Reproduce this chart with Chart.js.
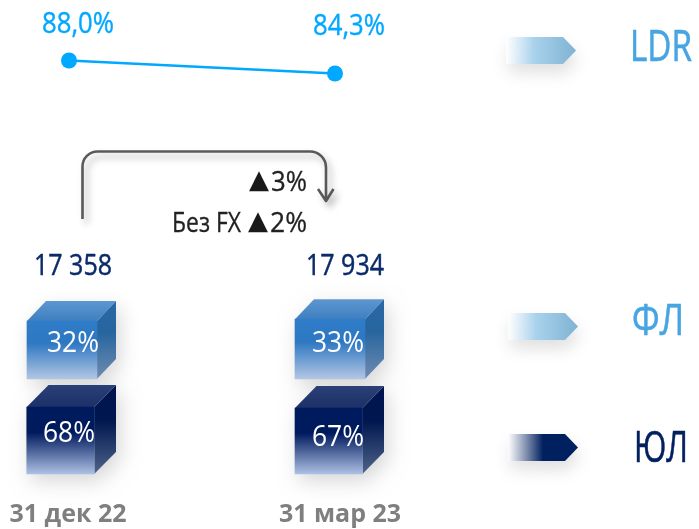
<!DOCTYPE html>
<html><head><meta charset="utf-8">
<style>html,body{margin:0;padding:0;background:#fff}#w{width:699px;height:529px;position:relative}</style>
<script src="https://cdn.jsdelivr.net/npm/chart.js@4"></script>
</head><body><div id="w"><canvas id="c" width="699" height="529"></canvas></div>
<script>
const dates = ['31 дек 22', '31 мар 23'];
const ldr = [88.0, 84.3];
const totals = [17358, 17934];
const flShare = [32, 33];
const jlShare = [68, 67];
const seriesNames = ['LDR', 'ФЛ', 'ЮЛ'];
const growth = '▲3%';
const growthNoFx = 'Без FX ▲2%';

const FONT = '"Open Sans"';
const H = 492; // chart-area bottom
const T = 8;   // chart-area top
function yRange(basePx, pxPerUnit){ return {min: -(H-basePx)/pxPerUnit, max: (basePx-T)/pxPerUnit}; }
function xRange(zeroPx, pxPerUnit){ return {min: (68-zeroPx)/pxPerUnit, max: (340-zeroPx)/pxPerUnit}; }
function hidden(type, r){ return Object.assign({type, display:false, offset:false, bounds:'data', grid:{display:false}}, r); }

function frontGradient(stops, yId){
  return ctx => {
    if (ctx.type !== 'data' || !ctx.parsed) return stops[0][1];
    const s = ctx.chart.scales[yId];
    const y0 = s.getPixelForValue(ctx.parsed.y), y1 = s.getPixelForValue(0);
    if (!isFinite(y0) || !isFinite(y1)) return stops[0][1];
    const g = ctx.chart.ctx.createLinearGradient(0, y0, 0, y1);
    stops.forEach(p => g.addColorStop(p[0], p[1]));
    return g;
  };
}
const flFront = [[0,'#2f7cc8'],[0.38,'#2e78c2'],[1,'#b3c6e3']];
const jlFront = [[0,'#001a5e'],[0.38,'#001a5e'],[1,'#adc0e4']];
const flSide = [[0,'#2a68a6'],[0.4,'#27659f'],[1,'#6f8cb0']];
const jlSide = [[0,'#00144f'],[0.4,'#00174f'],[1,'#4f6488']];
const flTop = ['#5d97d0','#3f7fc0'];
const jlTop = ['#2a4077','#1d3068'];

function fit(c, text, x, base, w, font, color, align, bold){
  c.save(); c.font = font; c.fillStyle = color; c.textAlign = align||'left'; c.textBaseline='alphabetic';
  c.fillText(text, x, base, w);
  if (bold){ c.strokeStyle=color; c.lineWidth=bold; c.lineJoin='round'; c.strokeText(text,x,base,w); }
  c.restore();
}
function grad(c,x0,y0,x1,y1,stops){ const g=c.createLinearGradient(x0,y0,x1,y1); stops.forEach(p=>g.addColorStop(p[0],p[1])); return g; }

function cube(c, el, right, dy, side, top){
  const l = el.x-el.width/2, r = el.x+el.width/2, t = el.y, b = el.base;
  c.save();
  c.shadowColor='rgba(0,0,0,0.16)'; c.shadowBlur=20; c.shadowOffsetX=4; c.shadowOffsetY=7;
  c.fillStyle='#fff';
  c.beginPath(); c.moveTo(l,t); c.lineTo(l+(right-r),t-dy); c.lineTo(right,t-dy); c.lineTo(right,b-dy); c.lineTo(r,b); c.lineTo(l,b); c.closePath(); c.fill();
  c.restore();
  c.fillStyle = grad(c,0,t-dy,0,t,[[0,top[0]],[1,top[1]]]);
  c.beginPath(); c.moveTo(l,t); c.lineTo(l+(right-r),t-dy); c.lineTo(right,t-dy); c.lineTo(r,t); c.closePath(); c.fill();
  c.fillStyle = grad(c,0,t-dy,0,b,side);
  c.beginPath(); c.moveTo(r,t); c.lineTo(right,t-dy); c.lineTo(right,b-dy); c.lineTo(r,b); c.closePath(); c.fill();
}
function arrow(c, x, y, stops){
  const w=70, h=27, p=13;
  c.save();
  c.shadowColor='rgba(0,0,0,0.12)'; c.shadowBlur=16; c.shadowOffsetX=2; c.shadowOffsetY=9;
  c.fillStyle=grad(c,x,0,x+w,0,stops);
  c.beginPath(); c.moveTo(x,y); c.lineTo(x+w-p,y); c.lineTo(x+w,y+h/2); c.lineTo(x+w-p,y+h); c.lineTo(x,y+h); c.closePath(); c.fill();
  c.restore();
}

const art = {
  id:'art',
  beforeDatasetsDraw(chart){
    const c = chart.ctx;
    const fl = chart.getDatasetMeta(0).data, jl = chart.getDatasetMeta(1).data;
    [116,384].forEach((rgt,i)=>{
      cube(c, fl[i], rgt, 20, flSide, flTop);
      cube(c, jl[i], rgt, 22, jlSide, jlTop);
    });
    // connector
    c.save();
    c.shadowColor='rgba(0,0,0,0.3)'; c.shadowBlur=7; c.shadowOffsetX=4; c.shadowOffsetY=5;
    c.strokeStyle='#595959'; c.lineWidth=2.6; c.lineJoin='round'; c.lineCap='butt';
    c.beginPath(); c.moveTo(82.5,219); c.lineTo(82.5,167); c.arcTo(82.5,151.5,98,151.5,15); c.lineTo(310,151.5); c.arcTo(326,151.5,326,167,16); c.lineTo(326,201);
    c.moveTo(318,189); c.lineTo(326,201); c.lineTo(333.5,189); c.stroke();
    c.restore();
    // legend arrows
    arrow(c,506,37,[[0,'rgba(255,255,255,0.9)'],[0.4,'#a9d2ec'],[1,'#7fb2d2']]);
    arrow(c,508,313,[[0,'rgba(255,255,255,0.9)'],[0.4,'#a9d2ec'],[1,'#7fb2d2']]);
    arrow(c,508,434,[[0,'rgba(255,255,255,0.9)'],[0.5,'#00205f'],[1,'#00205f']]);
  },
  afterDatasetsDraw(chart){
    const c = chart.ctx;
    const big = '30px '+FONT;
    const fmt = v => v.toFixed(1).replace('.',',')+'%';
    const thou = v => String(v).replace(/\B(?=(\d{3})+$)/g,' ');
    fit(c, fmt(ldr[0]), 42, 33, 72, big, '#00a8ff','left',0.4);
    fit(c, fmt(ldr[1]), 313, 35, 72, big, '#00a8ff','left',0.4);
    fit(c, thou(totals[0]), 34, 275, 78, big, '#0a2a6a','left',0.5);
    fit(c, thou(totals[1]), 306, 275, 78, big, '#0a2a6a','left',0.5);
    fit(c, flShare[0]+'%', 47, 352, 52, big, '#fff');
    fit(c, flShare[1]+'%', 312, 352, 52, big, '#fff');
    fit(c, jlShare[0]+'%', 43, 442, 52, big, '#fff');
    fit(c, jlShare[1]+'%', 312, 446, 52, big, '#fff');
    const small = '27px '+FONT, tri = '26px "DejaVu Sans"';
    const g1 = growth.split('▲'), g2 = growthNoFx.split('▲');
    fit(c, '▲', 249, 188, 21, tri, '#1a1a1a');
    fit(c, g1[1], 307, 191, 36, small, '#222', 'right', 0.3);
    fit(c, g2[0].trim(), 172, 232, 69, small, '#222', 'left', 0.3);
    fit(c, '▲', 248, 229, 21, tri, '#1a1a1a');
    fit(c, g2[1], 307, 232, 37, small, '#222', 'right', 0.3);
    const leg = '44px '+FONT;
    fit(c, seriesNames[0], 630, 61, 62, leg, '#46a5e2','left',0.6);
    fit(c, seriesNames[1], 632, 335, 52, leg, '#46a5e2','left',0.6);
    fit(c, seriesNames[2], 634, 462, 54, leg, '#00205f','left',0.6);
  }
};

new Chart(document.getElementById('c'), {
  data: {
    datasets: [
      {type:'bar', label:seriesNames[1], data:flShare.map((y,x)=>({x,y})), xAxisID:'xFl', yAxisID:'yFl', grouped:false, barThickness:70, clip:false, backgroundColor:frontGradient(flFront,'yFl'), borderWidth:0, order:2},
      {type:'bar', label:seriesNames[2], data:jlShare.map((y,x)=>({x,y})), xAxisID:'xJl', yAxisID:'yJl', grouped:false, barThickness:67.5, clip:false, backgroundColor:frontGradient(jlFront,'yJl'), borderWidth:0, order:2},
      {type:'line', label:seriesNames[0], data:ldr.map((y,x)=>({x,y})), xAxisID:'xLine', yAxisID:'yLine', clip:false, borderColor:'#00a8ff', backgroundColor:'#00a8ff', borderWidth:2.5, pointRadius:8, pointBackgroundColor:'#00a8ff', pointBorderWidth:0, tension:0, order:1}
    ]
  },
  options: {
    responsive:false, animation:false,
    layout:{padding:{left:68,right:359,top:0,bottom:0}},
    plugins:{legend:{display:false},tooltip:{enabled:false}},
    scales:{
      x:{type:'category', labels:dates, offset:false, grid:{display:false}, border:{display:false},
         afterFit:s=>{s.height=529-H;},
         ticks:{autoSkip:false,maxRotation:0,minRotation:0,padding:0,color:'#7f7f7f',font:{family:'Open Sans',size:25,weight:'700'}}},
      xFl:hidden('linear',xRange(62,268)),
      xJl:hidden('linear',xRange(60.5,268.25)),
      xLine:hidden('linear',xRange(69,266)),
      yFl:hidden('linear',yRange(379,58/32)),
      yJl:hidden('linear',yRange(474,67/68)),
      yLine:hidden('linear',yRange(60.5+88*13/3.7,13/3.7))
    }
  },
  plugins:[art]
});
</script></body></html>
